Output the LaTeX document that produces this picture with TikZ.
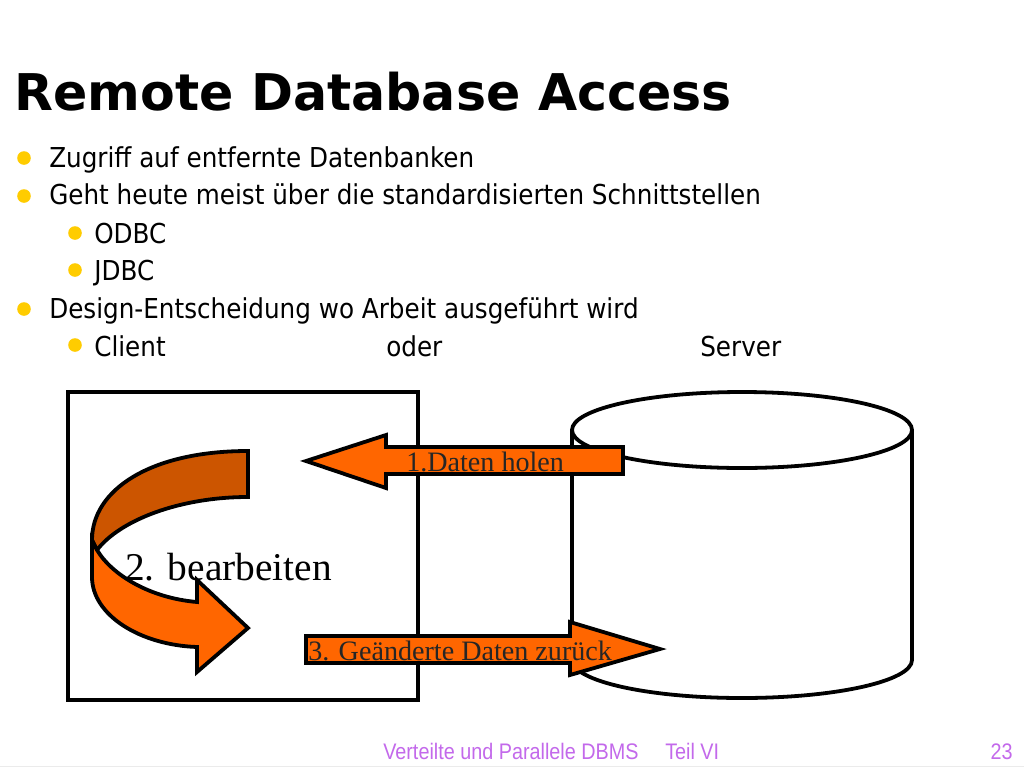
\documentclass[tikz,border=0pt]{standalone}
\usepackage{fontspec}
\setmainfont{Liberation Serif}
\newfontfamily\titlefont{DejaVu Sans}
\newfontfamily\itemfont{DejaVu Sans}[FakeStretch=0.9]
\newfontfamily\footfont{Liberation Sans}[FakeStretch=0.88]
\usetikzlibrary{positioning}

\definecolor{arroworange}{RGB}{255,102,0}
\definecolor{backorange}{RGB}{204,85,0}
\definecolor{bulletyellow}{RGB}{255,204,0}
\definecolor{footpurple}{RGB}{195,105,235}

\tikzset{
  itemtext/.style={anchor=base west,inner sep=0pt,font=\itemfont\fontsize{19.5}{23}\selectfont},
  bulletdot/.style={circle,fill=bulletyellow,inner sep=0pt,minimum size=3.4mm},
  blockarrow/.style={draw,line width=2.7pt,fill=arroworange,line join=miter},
  arrowtext/.style={anchor=base west,inner sep=0pt,font=\fontsize{20}{24}\selectfont,text=black!85},
  thickline/.style={line width=2.7pt},
  foottext/.style={inner sep=0pt,font=\footfont\fontsize{16}{19}\selectfont,text=footpurple}
}

\begin{document}
\begin{tikzpicture}[x=0.25mm,y=-0.25mm]
  \useasboundingbox[fill=white] (0,0) rectangle (1024,768);
  % title
  \node[anchor=base west,inner sep=0pt,font=\titlefont\bfseries\fontsize{36}{40}\selectfont] (title) at (14,110) {Remote Database Access};
  % bullets
  \node[bulletdot] (b1) at (24,158) {};
  \node[itemtext] (zugriff) at (49,167) {Zugriff auf entfernte Datenbanken};
  \node[bulletdot] (b2) at (24,196) {};
  \node[itemtext] (geht) at (49,204) {Geht heute meist über die standardisierten Schnittstellen};
  \node[bulletdot] (b3) at (75,233) {};
  \node[itemtext] (odbc) at (94,243) {ODBC};
  \node[bulletdot] (b4) at (75,270) {};
  \node[itemtext] (jdbc) at (94,280) {JDBC};
  \node[bulletdot] (b5) at (24,309) {};
  \node[itemtext] (design) at (49,318) {Design-Entscheidung wo Arbeit ausgeführt wird};
  \node[bulletdot] (b6) at (75,345) {};
  \node[itemtext] (client) at (94,356) {Client};
  \node[itemtext] (oder) at (386,356) {oder};
  \node[itemtext] (server) at (700,356) {Server};
  % client box and server cylinder
  \draw[thickline] (68,392) rectangle (418,700);
  \draw[thickline,fill=white] (572,430) -- (572,660) arc[start angle=180,end angle=0,x radius=170,y radius=38] -- (912,430);
  \draw[thickline] (742,430) ellipse[x radius=170,y radius=38];
  % 1. fetch
  \draw[blockarrow] (306,461) -- (386,435) -- (386,447) -- (623,447) -- (623,474) -- (386,474) -- (386,488) -- cycle;
  \node[arrowtext] (holen) at (406,471) {1.Daten holen};
  % 3. send back
  \draw[blockarrow] (306,636) -- (570,636) -- (570,622) -- (660,649) -- (570,675) -- (570,663) -- (306,663) -- cycle;
  \node[arrowtext] (zurueck) at (308,660) {3. Geänderte Daten zurück};
  % 2. u-turn
  \draw[blockarrow,fill=backorange] (248,451) -- (248,497) .. controls (180,497) and (120,520) .. (97,550) -- (92,540) .. controls (92,490) and (150,451) .. (248,451) -- cycle;
  \draw[blockarrow] (92,540) -- (92,577) .. controls (92,615) and (140,645) .. (197,647) -- (197,672) -- (248,628) -- (197,580) -- (197,602) .. controls (150,598) and (112,575) .. (97,550) -- cycle;
  \node[anchor=base west,inner sep=0pt,font=\fontsize{28}{32}\selectfont] (bearbeiten) at (125,580) {2. bearbeiten};
  % footer
  \node[foottext,anchor=base west] (foot) at (383,759) {Verteilte und Parallele DBMS};
  \node[foottext,anchor=base west] (teil) at (665,759) {Teil VI};
  \node[foottext,anchor=base east] (page) at (1013,759) {23};
  \draw[black!8] (0,766) -- (1024,766);
\end{tikzpicture}
\end{document}
